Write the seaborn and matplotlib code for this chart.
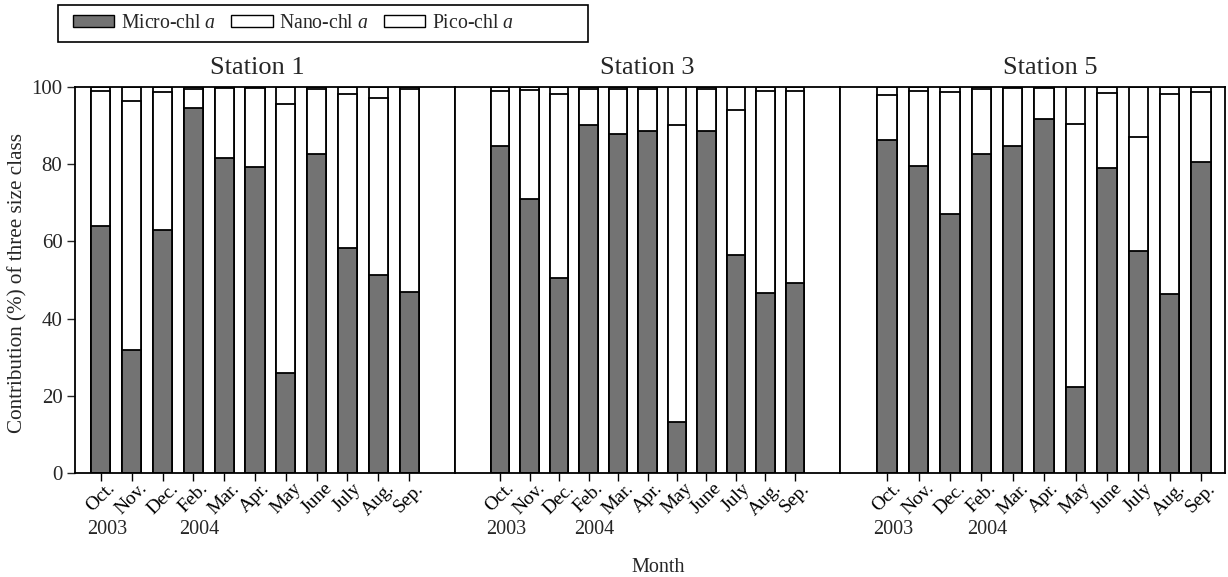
import numpy as np
import pandas as pd
import matplotlib
matplotlib.use("Agg")
import matplotlib.pyplot as plt
from matplotlib.patches import Patch, Rectangle
import seaborn as sns

# Monthly size-fractionated chlorophyll a contributions (%)
months = ["Oct.", "Nov.", "Dec.", "Feb.", "Mar.", "Apr.", "May", "June", "July", "Aug.", "Sep."]
stations = ["Station 1", "Station 3", "Station 5"]

micro_s1 = [64.0, 31.8, 63.0, 94.5, 81.5, 79.2, 26.0, 82.7, 58.2, 51.2, 47.0]
nano_s1 = [35.0, 64.6, 35.7, 5.0, 18.2, 20.5, 69.7, 16.8, 40.0, 46.0, 52.5]
pico_s1 = [1.0, 3.6, 1.3, 0.5, 0.3, 0.3, 4.3, 0.5, 1.8, 2.8, 0.5]

micro_s3 = [84.6, 71.0, 50.6, 90.2, 87.8, 88.7, 13.1, 88.5, 56.5, 46.6, 49.3]
nano_s3 = [14.4, 28.3, 47.5, 9.3, 11.7, 10.8, 77.0, 11.0, 37.5, 52.4, 49.7]
pico_s3 = [1.0, 0.7, 1.9, 0.5, 0.5, 0.5, 9.9, 0.5, 6.0, 1.0, 1.0]

micro_s5 = [86.2, 79.6, 67.0, 82.6, 84.7, 91.7, 22.2, 79.0, 57.5, 46.5, 80.5]
nano_s5 = [11.8, 19.4, 31.7, 16.9, 15.0, 8.0, 68.3, 19.5, 29.6, 51.7, 18.3]
pico_s5 = [2.0, 1.0, 1.3, 0.5, 0.3, 0.3, 9.5, 1.5, 12.9, 1.8, 1.2]

year_labels = {"Oct.": "2003", "Feb.": "2004"}

micro = [micro_s1, micro_s3, micro_s5]
nano = [nano_s1, nano_s3, nano_s5]
pico = [pico_s1, pico_s3, pico_s5]

rows = []
for st, mi, na, pi in zip(stations, micro, nano, pico):
    for m, a, b, c in zip(months, mi, na, pi):
        rows.append({"station": st, "month": m, "micro": a, "nano": b, "pico": c})
df = pd.DataFrame(rows)
df["micro_nano"] = df["micro"] + df["nano"]
df["total"] = df["micro_nano"] + df["pico"]

sns.set_theme(style="ticks")
plt.rcParams["font.family"] = ["Liberation Serif", "DejaVu Serif"]
plt.rcParams["mathtext.fontset"] = "custom"
plt.rcParams["mathtext.rm"] = "Liberation Serif"
plt.rcParams["mathtext.it"] = "Liberation Serif:italic"

W, H = 1228, 577
fig = plt.figure(figsize=(W / 100, H / 100), dpi=100)

GREY = "#737373"
EDGE = "black"
LW = 1.3

# panel boxes in pixels, x-range of each panel and title position
boxes = [(75, 455), (455, 840), (840, 1225)]
xlims = [(-0.84, 11.49), (-1.53, 11.53), (-1.5, 10.76)]
title_x = [0.48, 0.50, 0.545]
top_px, bot_px = 87, 473

axes = []
for i, st in enumerate(stations):
    x0, x1 = boxes[i]
    ax = fig.add_axes([x0 / W, 1 - bot_px / H, (x1 - x0) / W, (bot_px - top_px) / H])
    axes.append(ax)
    sub = df[df["station"] == st]
    for col, fc in (("total", "white"), ("micro_nano", "white"), ("micro", GREY)):
        sns.barplot(data=sub, x="month", y=col, order=months, color=fc,
                    saturation=1, edgecolor=EDGE, linewidth=LW, width=0.62,
                    errorbar=None, ax=ax)
    ax.set_xlim(*xlims[i])
    ax.set_ylim(0, 100)
    ax.set_xlabel("")
    ax.set_ylabel("")
    ax.set_title(st, fontsize=19, pad=9, x=title_x[i])
    for s in ax.spines.values():
        s.set_visible(True)
        s.set_color("black")
        s.set_linewidth(1.3)
    ax.set_xticks(range(len(months)))
    ax.set_xticklabels(months, rotation=45, ha="center", va="top", fontsize=14)
    ax.tick_params(axis="x", direction="out", length=6, width=1, pad=-1, colors="black")
    if i == 0:
        ax.set_yticks([0, 20, 40, 60, 80, 100])
        ax.tick_params(axis="y", direction="out", length=6, width=1, labelsize=15, pad=3)
    else:
        ax.set_yticks([])
    # year markers under the first month of each year
    for m, yr in year_labels.items():
        ax.annotate(yr, xy=(months.index(m) + 0.2, 0), xycoords=("data", "axes fraction"),
                    xytext=(0, -57), textcoords="offset pixels",
                    ha="center", va="center", fontsize=14.5)
    ax.grid(False)

fig.text(18 / W, 1 - 283 / H, "Contribution (%) of three size class", rotation=90,
         ha="center", va="center", fontsize=15.2)
fig.text(658 / W, 1 - 567 / H, "Month", ha="center", va="center", fontsize=14.5)

# legend box
fig.patches.append(Rectangle((58 / W, 1 - 42 / H), (588 - 58) / W, 37 / H,
                             transform=fig.transFigure, facecolor="white",
                             edgecolor="black", linewidth=1.2, zorder=1))
handles = [Patch(facecolor=GREY, edgecolor=EDGE, linewidth=1),
           Patch(facecolor="white", edgecolor=EDGE, linewidth=1),
           Patch(facecolor="white", edgecolor=EDGE, linewidth=1)]
labels = ["Micro-chl $a$", "Nano-chl $a$", "Pico-chl $a$"]
leg = fig.legend(handles, labels, loc="center left", bbox_to_anchor=(73 / W, 1 - 23.5 / H),
                 ncol=3, frameon=False, fontsize=14.2,
                 handlelength=2.1, handleheight=0.6, handletextpad=0.35,
                 columnspacing=0.75, borderaxespad=0, borderpad=0)
leg.set_zorder(2)

fig.savefig("out.png", dpi=100, facecolor="white")
